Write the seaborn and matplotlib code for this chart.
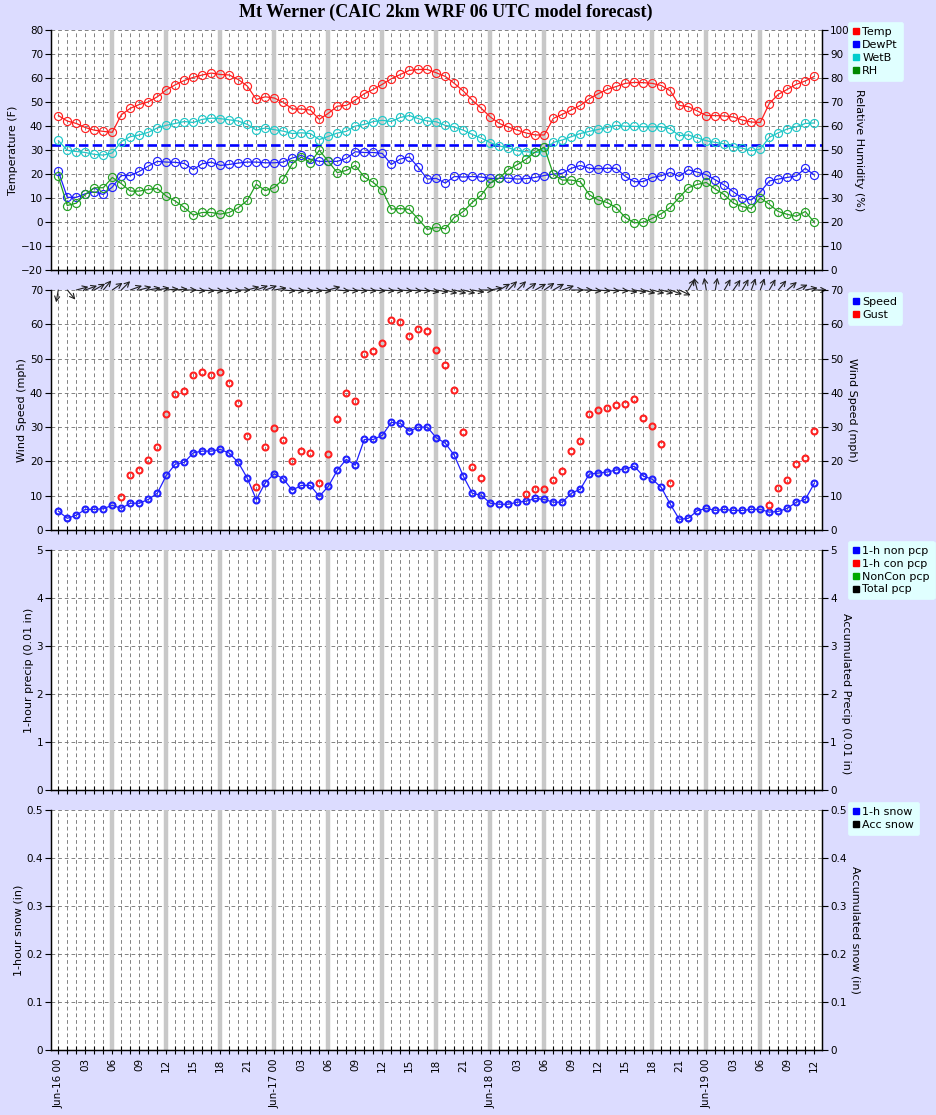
import matplotlib
matplotlib.use("Agg")
import matplotlib.pyplot as plt
import matplotlib.transforms as mtransforms
from matplotlib.lines import Line2D
from matplotlib.ticker import MultipleLocator, FuncFormatter
import numpy as np
import pandas as pd
import seaborn as sns

# ---------------- data ----------------
title = "Mt Werner (CAIC 2km WRF 06 UTC model forecast)"
hours = list(range(85))                      # hours since Jun-16 00 UTC
day_names = ["Jun-16", "Jun-17", "Jun-18", "Jun-19"]

temp = [44.4, 42.1, 41.1, 39.4, 38.3, 37.8, 37.4, 44.7, 47.4, 49.0,
        50.1, 52.2, 55.1, 57.2, 59.0, 60.3, 61.3, 62.1, 61.5, 61.3,
        59.4, 56.7, 51.1, 52.2, 51.7, 49.9, 47.1, 47.1, 46.7, 42.8,
        45.3, 48.3, 48.6, 50.8, 53.5, 55.3, 57.4, 59.7, 61.5, 63.2,
        63.6, 63.6, 62.2, 60.7, 57.8, 54.6, 50.8, 47.4, 43.8, 41.1,
        39.6, 38.3, 37.1, 36.3, 36.3, 43.2, 44.9, 46.7, 48.6, 51.4,
        53.5, 55.3, 56.5, 57.8, 58.2, 58.1, 57.8, 56.9, 54.7, 48.6,
        48.1, 46.3, 44.4, 44.4, 44.2, 43.8, 42.5, 41.7, 41.5, 49.4,
        53.2, 55.3, 57.4, 58.8, 60.7]

dewpt = [21.25, 10.3, 10.3, 11.8, 12.6, 11.5, 14.6, 19.4, 19.4, 21.1,
         23.3, 25.3, 25.0, 24.9, 24.4, 21.9, 24.3, 25.0, 23.6, 24.0,
         24.6, 25.0, 25.0, 24.7, 24.7, 25.0, 26.7, 27.8, 26.25, 25.3,
         25.3, 25.3, 26.5, 29.3, 29.0, 29.0, 28.6, 24.0, 26.25, 27.1,
         22.8, 17.9, 18.2, 16.25, 19.0, 18.75, 19.0, 18.75, 18.2, 18.2,
         18.3, 17.9, 18.1, 18.6, 19.4, 20.0, 20.3, 22.4, 23.6, 22.4,
         22.2, 22.4, 22.4, 19.0, 16.8, 16.9, 18.6, 19.3, 20.7, 19.0,
         21.8, 20.8, 19.7, 17.6, 15.4, 12.6, 10.0, 9.2, 12.5, 17.1,
         17.9, 18.6, 19.2, 22.4, 19.6]

wetb = [34.0, 29.9, 29.4, 29.0, 28.2, 27.9, 28.8, 33.5, 35.6, 36.3,
        37.4, 39.2, 40.3, 41.1, 41.9, 41.5, 42.8, 43.3, 43.1, 42.6,
        42.1, 40.7, 38.3, 39.2, 38.5, 37.9, 36.9, 37.2, 36.9, 34.4,
        35.7, 37.1, 37.8, 40.0, 40.7, 41.9, 42.4, 41.9, 43.6, 44.4,
        43.1, 42.1, 41.8, 40.3, 39.6, 38.3, 36.5, 35.0, 33.1, 31.7,
        31.0, 29.7, 29.3, 29.0, 29.4, 33.2, 34.2, 35.6, 36.9, 37.8,
        38.6, 39.4, 40.3, 39.9, 39.9, 39.7, 39.7, 39.7, 38.9, 36.0,
        36.3, 35.1, 33.9, 33.2, 32.6, 31.3, 30.8, 29.7, 30.4, 35.3,
        37.2, 38.8, 39.7, 41.1, 41.3]

rh = [39.0, 26.9, 27.9, 31.5, 34.3, 34.3, 38.6, 36.0, 32.9, 32.9,
      33.6, 34.0, 30.8, 28.75, 26.1, 22.9, 24.0, 24.0, 23.3, 24.0,
      26.0, 29.0, 35.8, 33.1, 34.4, 37.9, 44.3, 47.1, 44.7, 49.9,
      45.3, 40.6, 41.5, 43.6, 38.75, 36.5, 33.2, 25.4, 25.6, 25.3,
      21.25, 16.9, 17.8, 17.2, 21.9, 24.4, 28.2, 31.25, 36.25, 38.3,
      41.9, 43.9, 46.25, 49.2, 51.25, 39.9, 37.5, 37.5, 36.8, 31.4,
      29.2, 28.1, 26.0, 21.9, 19.7, 19.9, 21.5, 23.5, 26.1, 30.3,
      34.3, 35.7, 36.5, 33.75, 31.4, 27.9, 26.4, 25.7, 30.1, 27.4,
      24.4, 23.2, 22.4, 24.4, 19.9]

freezing_f = 32

speed = [5.5, 3.4, 4.3, 6.0, 6.0, 6.2, 7.2, 6.3, 7.8, 7.8,
         8.9, 10.7, 15.9, 19.2, 19.7, 22.5, 23.0, 23.0, 23.5, 22.4,
         19.7, 15.1, 8.85, 13.8, 16.4, 14.9, 11.6, 13.0, 13.0, 9.8,
         12.7, 17.4, 20.6, 18.9, 26.4, 26.4, 27.6, 31.4, 31.1, 28.8,
         30.0, 30.0, 26.9, 25.3, 21.8, 15.7, 10.7, 10.1, 7.8, 7.5,
         7.5, 8.1, 8.4, 9.2, 8.9, 8.1, 8.1, 10.7, 11.9, 16.3,
         16.6, 16.9, 17.5, 17.8, 18.6, 15.7, 14.8, 12.4, 7.5, 3.1,
         3.4, 5.6, 6.3, 5.7, 6.0, 5.7, 5.7, 6.0, 6.0, 5.2,
         5.4, 6.3, 8.1, 8.9, 13.6]

nan = float("nan")
gust = [nan, nan, nan, nan, nan, nan, nan, 9.5, 15.9, 17.4,
        20.3, 24.1, 33.7, 39.6, 40.4, 45.1, 46.1, 45.1, 46.1, 42.8,
        37.0, 27.4, 12.4, 24.2, 29.65, 26.25, 20.0, 23.0, 22.5, 13.7,
        22.1, 32.3, 40.0, 37.5, 51.2, 52.2, 54.5, 61.2, 60.6, 56.5,
        58.5, 57.9, 52.4, 48.0, 40.7, 28.5, 18.4, 15.1, nan, nan,
        nan, nan, 10.4, 11.9, 11.9, 14.5, 17.1, 23.0, 25.9, 33.7,
        34.9, 35.5, 36.5, 36.7, 38.1, 32.6, 30.3, 25.0, 13.6, nan,
        nan, nan, nan, nan, nan, nan, nan, nan, nan, 7.2,
        12.1, 14.5, 19.2, 20.9, 29.0]

# wind direction (meteorological, degrees the wind blows FROM)
wind_dir = [10, 320, 255, 250, 240, 220, 235, 225, 250, 255,
            260, 260, 265, 265, 270, 275, 275, 275, 275, 275,
            270, 255, 250, 250, 260, 275, 275, 275, 275, 275,
            255, 275, 275, 275, 275, 275, 275, 275, 275, 275,
            275, 280, 280, 285, 285, 285, 280, 270, 260, 240,
            225, 225, 235, 240, 235, 240, 250, 270, 270, 275,
            275, 275, 275, 280, 280, 285, 285, 285, 290, 295,
            210, 165, 170, 190, 210, 215, 210, 200, 200, 210,
            220, 230, 245, 260, 270]

temp_labels = ["Temp", "DewPt", "WetB", "RH"]
wind_labels = ["Speed", "Gust"]
pcp_labels = ["1-h non pcp", "1-h con pcp", "NonCon pcp", "Total pcp"]
snow_labels = ["1-h snow", "Acc snow"]

df = pd.DataFrame({"hour": hours, "Temp": temp, "DewPt": dewpt, "WetB": wetb,
                   "RH": rh, "Speed": speed, "Gust": gust, "Dir": wind_dir})

# ---------------- style ----------------
sns.set_style("ticks")
plt.rcParams["font.family"] = ["DejaVu Sans"]
plt.rcParams["axes.edgecolor"] = "black"
plt.rcParams["xtick.color"] = "black"
plt.rcParams["ytick.color"] = "black"
plt.rcParams["text.color"] = "black"
plt.rcParams["axes.labelcolor"] = "black"

BG = "#DCDCFF"
C_RED, C_BLUE, C_CYAN, C_GREEN = "#FF2020", "#2020FF", "#20C8C8", "#22A022"
TICK_FS, LAB_FS, LEG_FS = 7.5, 8, 8
GRID_C = "#6E6E6E"

fig = plt.figure(figsize=(9.37, 11.15), dpi=100, facecolor=BG)
L, W, H = 0.0541, 0.8235, 0.2152
bottoms = [0.7578, 0.5247, 0.2915, 0.0583]
axes = [fig.add_axes([L, b, W, H]) for b in bottoms]

def xlabel_for(h):
    if h % 24 == 0:
        return f"{day_names[h // 24]} {0:02d}"
    return f"{h % 24:02d}"

def base(ax, ylim, ystep, fmt=None, last=False):
    ax.set_facecolor("white")
    ax.set_xlim(-0.844, 84.89)
    ax.set_ylim(*ylim)
    ax.yaxis.set_major_locator(MultipleLocator(ystep))
    if fmt:
        ax.yaxis.set_major_formatter(FuncFormatter(fmt))
    ax.set_xticks(list(range(0, 85, 3)))
    ax.set_xticks(hours, minor=True)
    ax.set_xticklabels([xlabel_for(h) for h in range(0, 85, 3)] if last else [],
                       rotation=90, fontsize=TICK_FS)
    ax.set_axisbelow(True)
    ax.grid(True, which="both", axis="x", color=GRID_C, ls=(0, (4.5, 3.5)), lw=0.6)
    ax.grid(True, which="major", axis="y", color=GRID_C, ls=(0, (4.5, 3.5)), lw=0.6)
    for h in range(6, 84, 6):
        ax.axvline(h, color="#C8C8C8", lw=3.2, zorder=1.2)
    ax.tick_params(axis="x", which="both", direction="inout", length=6, width=0.8,
                   labelbottom=last, labelsize=TICK_FS, pad=3)
    ax.tick_params(axis="y", direction="out", length=4, width=0.8, labelsize=TICK_FS, pad=1.5)
    ax.spines["top"].set_visible(False)
    for s in ("left", "bottom", "right"):
        ax.spines[s].set_linewidth(1.0)
    tw = ax.twinx()
    tw.set_ylim(*ylim)
    tw.spines["top"].set_visible(False)
    tw.grid(False)
    tw.tick_params(axis="y", direction="out", length=4, width=0.8, labelsize=TICK_FS, pad=1.5)
    return tw

def legend(tw, labels, colors, anchor):
    handles = [Line2D([], [], ls="", marker="s", ms=5, mfc=c, mec=c) for c in colors]
    leg = tw.legend(handles, labels, loc="upper left", bbox_to_anchor=anchor,
                    borderaxespad=0, frameon=True, fancybox=True, framealpha=1,
                    facecolor="#E0FFFF", edgecolor="#E0FFFF", fontsize=LEG_FS,
                    handlelength=0.6, handletextpad=0.25, borderpad=0.45,
                    labelspacing=0.25)
    leg.get_frame().set_linewidth(0.5)
    return leg

# ---------------- panel 1 : temperature / RH ----------------
ax = axes[0]
tw = base(ax, (-20, 80), 10)
tw.set_ylim(0, 100)
tw.yaxis.set_major_locator(MultipleLocator(10))
ax.axhline(freezing_f, color="#0000FF", lw=1.9, ls=(0, (3.6, 1.6)), zorder=2)
line_kw = dict(marker="o", markersize=5.8, markerfacecolor="none", markeredgewidth=0.85,
               linewidth=0.9, legend=False)
sns.lineplot(data=df, x="hour", y="Temp", ax=ax, color=C_RED, markeredgecolor=C_RED, **line_kw)
sns.lineplot(data=df, x="hour", y="WetB", ax=ax, color=C_CYAN, markeredgecolor=C_CYAN, **line_kw)
sns.lineplot(data=df, x="hour", y="DewPt", ax=ax, color=C_BLUE, markeredgecolor=C_BLUE, **line_kw)
sns.lineplot(data=df, x="hour", y="RH", ax=tw, color=C_GREEN, markeredgecolor=C_GREEN, **line_kw)
ax.set_xlabel("")
ax.set_ylabel("Temperature (F)", fontsize=LAB_FS, labelpad=2)
tw.set_ylabel("Relative Humidity (%)", fontsize=LAB_FS, rotation=270, va="bottom", labelpad=3)
legend(tw, temp_labels, ["#FF0000", "#0000FF", "#00CCCC", "#008800"], (1.033, 1.033))

# ---------------- panel 2 : wind ----------------
ax = axes[1]
tw = base(ax, (0, 70), 10)
tw.yaxis.set_major_locator(MultipleLocator(10))
wind_kw = dict(marker="o", markersize=4.3, markerfacecolor="none", markeredgewidth=1.5,
               legend=False)
sns.lineplot(data=df, x="hour", y="Speed", ax=ax, color=C_BLUE, markeredgecolor=C_BLUE,
             linewidth=0.9, **wind_kw)
sns.lineplot(data=df.dropna(subset=["Gust"]), x="hour", y="Gust", ax=ax, color=C_RED,
             markeredgecolor=C_RED, linestyle="", **wind_kw)
ax.set_xlabel("")
ax.set_ylabel("Wind Speed (mph)", fontsize=LAB_FS, labelpad=2)
tw.set_ylabel("Wind Speed (mph)", fontsize=LAB_FS, rotation=270, va="bottom", labelpad=3)
# direction arrows along the top edge
ARROW_PX = 12.5
for h, d in zip(hours, wind_dir):
    th = np.deg2rad(270 - d)
    tr = mtransforms.offset_copy(ax.transData, fig=fig, x=ARROW_PX * np.cos(th),
                                 y=ARROW_PX * np.sin(th), units="dots")
    ax.annotate("", xy=(h, 70), xycoords=tr, xytext=(h, 70), textcoords="data",
                arrowprops=dict(arrowstyle="->,head_length=0.35,head_width=0.18",
                                color="#202020", lw=0.8, shrinkA=0, shrinkB=0),
                annotation_clip=False, zorder=5)
legend(tw, wind_labels, ["#0000FF", "#FF0000"], (1.033, 0.992))

# ---------------- panel 3 : precipitation ----------------
ax = axes[2]
tw = base(ax, (0, 5), 1)
tw.yaxis.set_major_locator(MultipleLocator(1))
ax.set_ylabel("1-hour precip (0.01 in)", fontsize=LAB_FS, labelpad=2)
tw.set_ylabel("Accumulated Precip (0.01 in)", fontsize=LAB_FS, rotation=270, va="bottom",
              labelpad=3, y=0.40)
legend(tw, pcp_labels, ["#0000FF", "#FF0000", "#00AA00", "#000000"], (1.033, 1.037))

# ---------------- panel 4 : snow ----------------
ax = axes[3]
g = lambda v, p: f"{v:.1f}".rstrip("0").rstrip(".") if v else "0"
tw = base(ax, (0, 0.5), 0.1, fmt=g, last=True)
tw.yaxis.set_major_locator(MultipleLocator(0.1))
tw.yaxis.set_major_formatter(FuncFormatter(g))
ax.set_ylabel("1-hour snow (in)", fontsize=LAB_FS, labelpad=2)
tw.set_ylabel("Accumulated snow (in)", fontsize=LAB_FS, rotation=270, va="bottom", labelpad=3)
legend(tw, snow_labels, ["#0000FF", "#000000"], (1.033, 1.033))

fig.text(0.476, 1 - 12.5 / 1115, title, ha="center", va="center",
         fontsize=13, fontweight="bold", family=["Liberation Serif", "DejaVu Serif"])

fig.savefig("out.png", dpi=100, facecolor=BG)
